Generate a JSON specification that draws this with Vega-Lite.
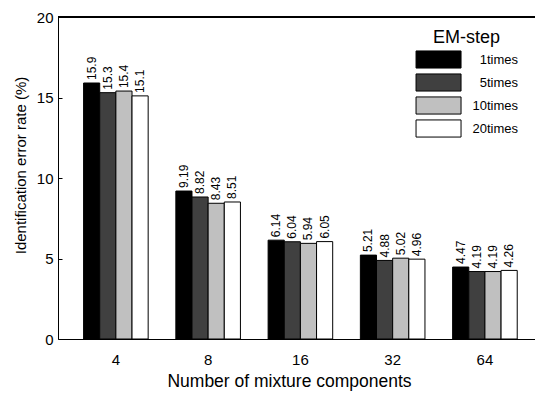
{
  "$schema": "https://vega.github.io/schema/vega-lite/v6.json",
  "width": 477,
  "height": 322,
  "autosize": {"type": "none"},
  "padding": {"left": 58, "top": 17, "right": 0, "bottom": 54},
  "config": {
    "font": "Liberation Sans",
    "view": {"stroke": null},
    "axis": {"domainColor": "black", "domainWidth": 1, "tickColor": "black", "labelColor": "black", "titleColor": "black", "grid": false, "titleFontWeight": "normal"},
    "legend": {"titleFontWeight": "normal"}
  },
  "data": {
    "values": [
      {"components": "4", "steps": "1times", "value": 15.9},
      {"components": "4", "steps": "5times", "value": 15.3},
      {"components": "4", "steps": "10times", "value": 15.4},
      {"components": "4", "steps": "20times", "value": 15.1},
      {"components": "8", "steps": "1times", "value": 9.19},
      {"components": "8", "steps": "5times", "value": 8.82},
      {"components": "8", "steps": "10times", "value": 8.43},
      {"components": "8", "steps": "20times", "value": 8.51},
      {"components": "16", "steps": "1times", "value": 6.14},
      {"components": "16", "steps": "5times", "value": 6.04},
      {"components": "16", "steps": "10times", "value": 5.94},
      {"components": "16", "steps": "20times", "value": 6.05},
      {"components": "32", "steps": "1times", "value": 5.21},
      {"components": "32", "steps": "5times", "value": 4.88},
      {"components": "32", "steps": "10times", "value": 5.02},
      {"components": "32", "steps": "20times", "value": 4.96},
      {"components": "64", "steps": "1times", "value": 4.47},
      {"components": "64", "steps": "5times", "value": 4.19},
      {"components": "64", "steps": "10times", "value": 4.19},
      {"components": "64", "steps": "20times", "value": 4.26}
    ]
  },
  "layer": [
    {
      "mark": {"type": "bar", "stroke": "black", "strokeWidth": 1},
      "encoding": {
        "x": {"field": "components", "type": "ordinal", "sort": ["4", "8", "16", "32", "64"],
          "scale": {"paddingInner": 0.3, "paddingOuter": 0.235, "align": 0.59},
          "axis": {"title": "Number of mixture components", "labelAngle": 0, "ticks": false, "labelFontSize": 15, "labelPadding": 13, "titleFontSize": 17.5, "titlePadding": 5, "titleX": 231}},
        "xOffset": {"field": "steps", "type": "nominal", "sort": ["1times", "5times", "10times", "20times"]},
        "y": {"field": "value", "type": "quantitative", "scale": {"domain": [0, 20], "nice": false},
          "axis": {"title": "Identification error rate (%)", "values": [0, 5, 10, 15, 20], "tickSize": -4, "labelFontSize": 15, "labelPadding": 9, "titleFontSize": 15, "titlePadding": 8, "titleY": 148}},
        "color": {"field": "steps", "type": "nominal", "sort": ["1times", "5times", "10times", "20times"],
          "scale": {"domain": ["1times", "5times", "10times", "20times"], "range": ["#000000", "#404040", "#c0c0c0", "#ffffff"]},
          "legend": {"title": "EM-step", "orient": "none", "legendX": 375, "legendY": 12, "padding": 0, "titleFontSize": 18, "titleAnchor": "start", "titleAlign": "left", "titlePadding": 3, "labelFontSize": 13, "labelAlign": "right", "labelOffset": 66, "symbolType": "M-2.94,-0.95H2.06V0.95H-2.94Z", "symbolSize": 324, "symbolStrokeColor": "black", "symbolStrokeWidth": 1, "rowPadding": 0}}
      }
    },
    {
      "mark": {"type": "text", "angle": 270, "align": "left", "baseline": "middle", "dx": 3, "fontSize": 12, "color": "black"},
      "encoding": {
        "x": {"field": "components", "type": "ordinal", "sort": ["4", "8", "16", "32", "64"]},
        "xOffset": {"field": "steps", "type": "nominal", "sort": ["1times", "5times", "10times", "20times"]},
        "y": {"field": "value", "type": "quantitative"},
        "text": {"field": "value", "type": "nominal"}
      }
    },
    {
      "mark": {"type": "rule", "color": "black", "strokeWidth": 1},
      "encoding": {"y": {"datum": 20}}
    }
  ]
}
